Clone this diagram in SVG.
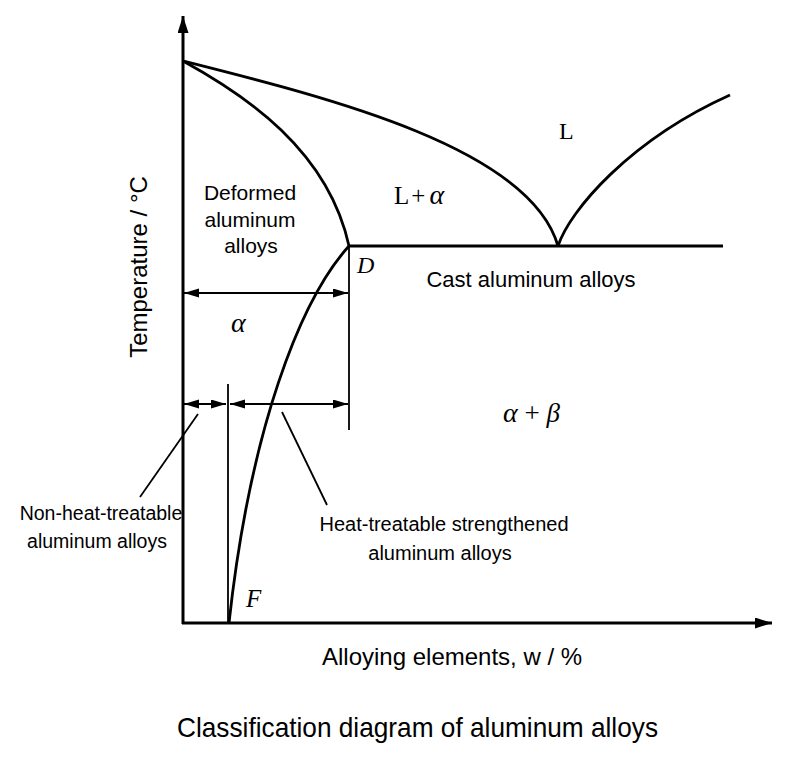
<svg xmlns="http://www.w3.org/2000/svg" width="800" height="773" viewBox="0 0 800 773">
<style>
.ax{stroke:#000;stroke-width:3;fill:none}
.cv{stroke:#000;stroke-width:2.8;fill:none}
.th{stroke:#000;stroke-width:1.8;fill:none}
.lb{font-family:"Liberation Sans",Arial,sans-serif;fill:#000}
.mt{font-family:"Liberation Serif","Times New Roman",serif;fill:#000}
.it{font-style:italic}
</style>
<defs>
<marker id="axh" markerUnits="userSpaceOnUse" markerWidth="18" markerHeight="12" refX="17" refY="5.5" orient="auto">
<path d="M0,0 L17,5.5 L0,11 z" fill="#000"/>
</marker>
<marker id="ah" markerUnits="userSpaceOnUse" markerWidth="16" markerHeight="10" refX="15" refY="4.5" orient="auto-start-reverse">
<path d="M0,0 L15,4.5 L0,9 z" fill="#000"/>
</marker>
</defs>
<rect width="800" height="773" fill="#fff"/>
<g id="axes">
<line class="ax" x1="183" y1="624" x2="183" y2="16" marker-end="url(#axh)"/>
<line class="ax" x1="182" y1="623" x2="772" y2="623" marker-end="url(#axh)"/>
</g>
<g id="phase-lines">
<path id="liquidus-left" class="cv" d="M183,61 C330,98 530,148 558,246"/>
<path id="liquidus-right" class="cv" d="M558,246 C570,210 630,140 730,95"/>
<path id="solidus" class="cv" d="M183,61 C245,95 328,150 349,246"/>
<path id="solvus" class="cv" d="M349,246 C300,300 250,430 229,623"/>
<line id="eutectic" class="cv" x1="349" y1="246" x2="723" y2="246"/>
</g>
<g id="connectors">
<line class="th" x1="349" y1="246" x2="349" y2="430"/>
<line class="th" x1="228" y1="384" x2="228" y2="623"/>
<line class="th" x1="184" y1="293" x2="348" y2="293" marker-start="url(#ah)" marker-end="url(#ah)"/>
<line class="th" x1="184" y1="404" x2="226" y2="404" marker-start="url(#ah)" marker-end="url(#ah)"/>
<line class="th" x1="230" y1="404" x2="348" y2="404" marker-start="url(#ah)" marker-end="url(#ah)"/>
<line class="th" x1="198" y1="414" x2="140" y2="497"/>
<line class="th" x1="282" y1="412" x2="327" y2="505"/>
</g>
<g id="label-temperature">
<text class="lb" font-size="24" text-anchor="middle" transform="translate(147,267) rotate(-90)">Temperature / °C</text>
</g>
<g id="label-deformed">
<text class="lb" font-size="21" text-anchor="middle" x="250" y="200">Deformed</text>
<text class="lb" font-size="21" text-anchor="middle" x="250" y="227">aluminum</text>
<text class="lb" font-size="21" text-anchor="middle" x="251" y="253">alloys</text>
</g>
<g id="label-L-alpha">
<text class="mt" font-size="25" x="394" y="204">L<tspan dx="2">+</tspan><tspan class="it" font-size="28" dx="4">α</tspan></text>
</g>
<g id="label-L">
<text class="mt" font-size="24" x="559" y="139">L</text>
</g>
<g id="label-D">
<text class="mt it" font-size="24" x="357" y="273">D</text>
</g>
<g id="label-cast">
<text class="lb" font-size="22" text-anchor="middle" x="531" y="287">Cast aluminum alloys</text>
</g>
<g id="label-alpha">
<text class="mt it" font-size="28" x="231" y="332">α</text>
</g>
<g id="label-alpha-beta">
<text class="mt" font-size="27" x="503" y="422"><tspan class="it" font-size="28">α</tspan> + <tspan class="it">β</tspan></text>
</g>
<g id="label-non-heat">
<text class="lb" font-size="19.5" text-anchor="middle" x="101" y="520">Non-heat-treatable</text>
<text class="lb" font-size="19.5" text-anchor="middle" x="97" y="548">aluminum alloys</text>
</g>
<g id="label-heat">
<text class="lb" font-size="20" text-anchor="middle" x="444" y="531">Heat-treatable strengthened</text>
<text class="lb" font-size="20" text-anchor="middle" x="440" y="560">aluminum alloys</text>
</g>
<g id="label-F">
<text class="mt it" font-size="25" x="246" y="607">F</text>
</g>
<g id="label-x-axis">
<text class="lb" font-size="24" x="322" y="665">Alloying elements, w / %</text>
</g>
<g id="title">
<text class="lb" font-size="28" x="177" y="737" textLength="481" lengthAdjust="spacingAndGlyphs">Classification diagram of aluminum alloys</text>
</g>
</svg>
